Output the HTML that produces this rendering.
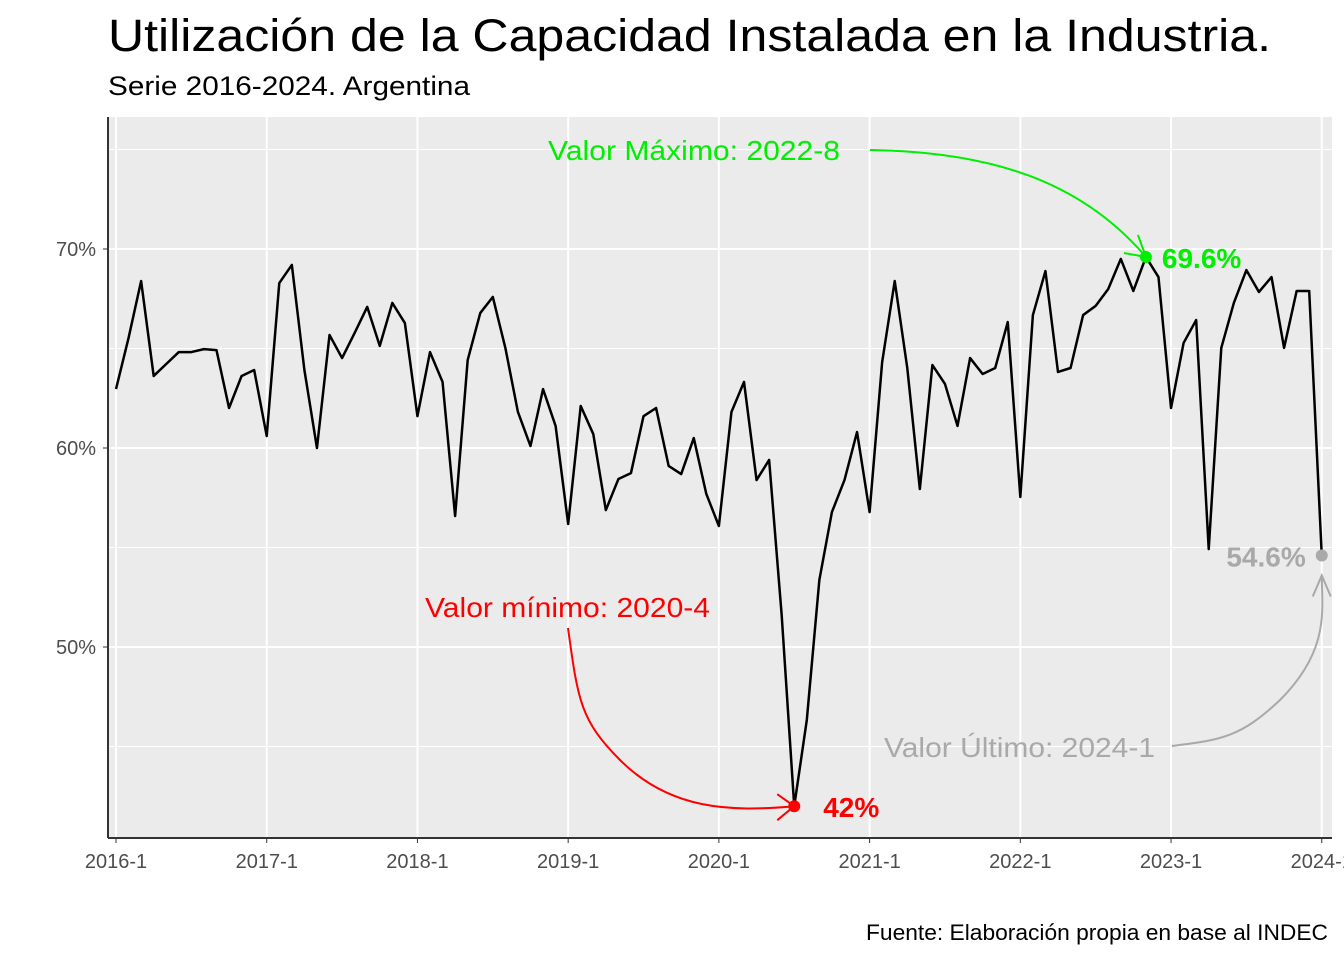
<!DOCTYPE html>
<html><head><meta charset="utf-8"><style>
body{margin:0;background:#fff;}
svg{display:block;font-family:"Liberation Sans",sans-serif;}
</style></head><body>
<svg id="chart" width="1344" height="960">
<text x="108" y="51" font-size="45" textLength="1163" lengthAdjust="spacingAndGlyphs" fill="#000">Utilización de la Capacidad Instalada en la Industria.</text>
<text x="108" y="95" font-size="27" textLength="362" lengthAdjust="spacingAndGlyphs" fill="#000">Serie 2016-2024. Argentina</text>
<rect x="108" y="117" width="1224" height="721" fill="#ebebeb"/>
<g id="grid"></g>
<g id="axes"></g>
<g id="series"></g>
<g id="ann"></g>
<text x="1328" y="940" font-size="22" text-anchor="end" textLength="462" lengthAdjust="spacingAndGlyphs" fill="#000">Fuente: Elaboración propia en base al INDEC</text>
</svg>
<script>
const values = [62.96,65.53,68.39,63.62,64.22,64.82,64.82,64.97,64.92,62.01,63.62,63.92,
60.6,68.29,69.2,63.92,60.0,65.68,64.52,65.78,67.09,65.13,67.29,66.28,
61.6,64.82,63.32,56.58,64.42,66.78,67.59,65.03,61.81,60.1,62.96,61.11,
56.18,62.11,60.7,56.88,58.44,58.74,61.6,62.01,59.1,58.69,60.5,57.69,
56.08,61.81,63.32,58.39,59.4,51.6,42.0,46.33,53.37,56.78,58.39,60.8,
56.78,64.32,68.39,64.02,57.94,64.17,63.22,61.11,64.52,63.72,64.02,66.33,
57.54,66.68,68.89,63.82,64.02,66.68,67.14,67.99,69.5,67.89,69.6,68.59,
62.01,65.28,66.43,54.92,65.03,67.29,68.94,67.84,68.59,65.03,67.89,67.89,
54.6];
const xTickLabels = ["2016-1","2017-1","2018-1","2019-1","2020-1","2021-1","2022-1","2023-1","2024-1"];
const yTicks = [50,60,70];
const yMinor = [45,55,65,75];
const NS="http://www.w3.org/2000/svg";
const xs=i=>116+i*12.56;
const ys=v=>249+(70-v)*19.9;
function mk(tag,attrs,parent){const e=document.createElementNS(NS,tag);for(const k in attrs)e.setAttribute(k,attrs[k]);parent.appendChild(e);return e;}
const grid=document.getElementById('grid'),axes=document.getElementById('axes'),series=document.getElementById('series'),ann=document.getElementById('ann');
yMinor.forEach(v=>{const l=mk('line',{x1:108,x2:1332,y1:ys(v),y2:ys(v),stroke:'#fff','stroke-width':1},grid);

});
yTicks.forEach(v=>{const l=mk('line',{x1:108,x2:1332,y1:ys(v),y2:ys(v),stroke:'#fff','stroke-width':2},grid);


const t=mk('text',{x:96,y:ys(v)+7,'font-size':20,'text-anchor':'end',fill:'#4d4d4d'},axes);t.textContent=v+'%';


mk('line',{x1:103,x2:108,y1:ys(v),y2:ys(v),stroke:'#333','stroke-width':1},axes);});
xTickLabels.forEach((s,k)=>{const x=xs(12*k);const l=mk('line',{x1:x,x2:x,y1:117,y2:838,stroke:'#fff','stroke-width':2},grid);


mk('line',{x1:x,x2:x,y1:838,y2:843,stroke:'#333','stroke-width':1},axes);
const t=mk('text',{x:x,y:868,'font-size':20,'text-anchor':'middle',fill:'#4d4d4d'},axes);t.textContent=s;

});
mk('line',{x1:108,x2:108,y1:117,y2:838,stroke:'#333','stroke-width':2},axes);
mk('line',{x1:108,x2:1332,y1:838,y2:838,stroke:'#333','stroke-width':2},axes);
const p=mk('polyline',{points:values.map((v,i)=>xs(i)+','+ys(v)).join(' '),fill:'none',stroke:'#000','stroke-width':2.5,'stroke-linejoin':'round'},series);


let iMin=0,iMax=0;values.forEach((v,i)=>{if(v<values[iMin])iMin=i;if(v>values[iMax])iMax=i;});
const iLast=values.length-1;
function annot(i,color,label,lx,ly,tl,pct,px,py,panchor,path,ah,name){
 const x=xs(i),y=ys(values[i]);
 const c=mk('circle',{cx:x,cy:y,r:6,fill:color},ann);
 
 
 const t=mk('text',{x:lx,y:ly,'font-size':28,textLength:tl,lengthAdjust:'spacingAndGlyphs',fill:color},ann);t.textContent=label;
 
 
 const t2=mk('text',{x:px,y:py,'font-size':28,'font-weight':'bold','text-anchor':panchor,fill:color},ann);t2.textContent=pct;
 
 
 const pa=mk('path',{d:path,fill:'none',stroke:color,'stroke-width':2},ann);
 
 
 mk('path',{d:ah,fill:'none',stroke:color,'stroke-width':2},ann);
}
let x,y;
x=xs(iMax);y=ys(values[iMax]);
annot(iMax,'#00ee00','Valor Máximo: 2022-8',548,160,292,values[iMax]+'%',x+16,y+11,'start',
 `M870,150 C990,152 1080,180 ${x},${y}`,`M${x-8},${y-22} L${x},${y} L${x-22},${y-4}`,'max');
x=xs(iMin);y=ys(values[iMin]);
annot(iMin,'#ff0000','Valor mínimo: 2020-4',425,617,285,values[iMin]+'%',x+29,y+11,'start',
 `M568,628 C578,700 580,720 620,760 C670,810 730,812 ${x},${y}`,`M${x-17},${y-12} L${x},${y} L${x-17},${y+14}`,'min');
x=xs(iLast);y=ys(values[iLast]);
annot(iLast,'#a9a9a9','Valor Último: 2024-1',884,757,271,values[iLast]+'%',x-16,y+11,'end',
 `M1172,746 C1220,740 1240,738 1280,700 C1330,650 1322,610 ${x},${y+20}`,`M${x-9},${y+41} L${x},${y+20} L${x+9},${y+41}`,'last');
</script>
</body></html>
